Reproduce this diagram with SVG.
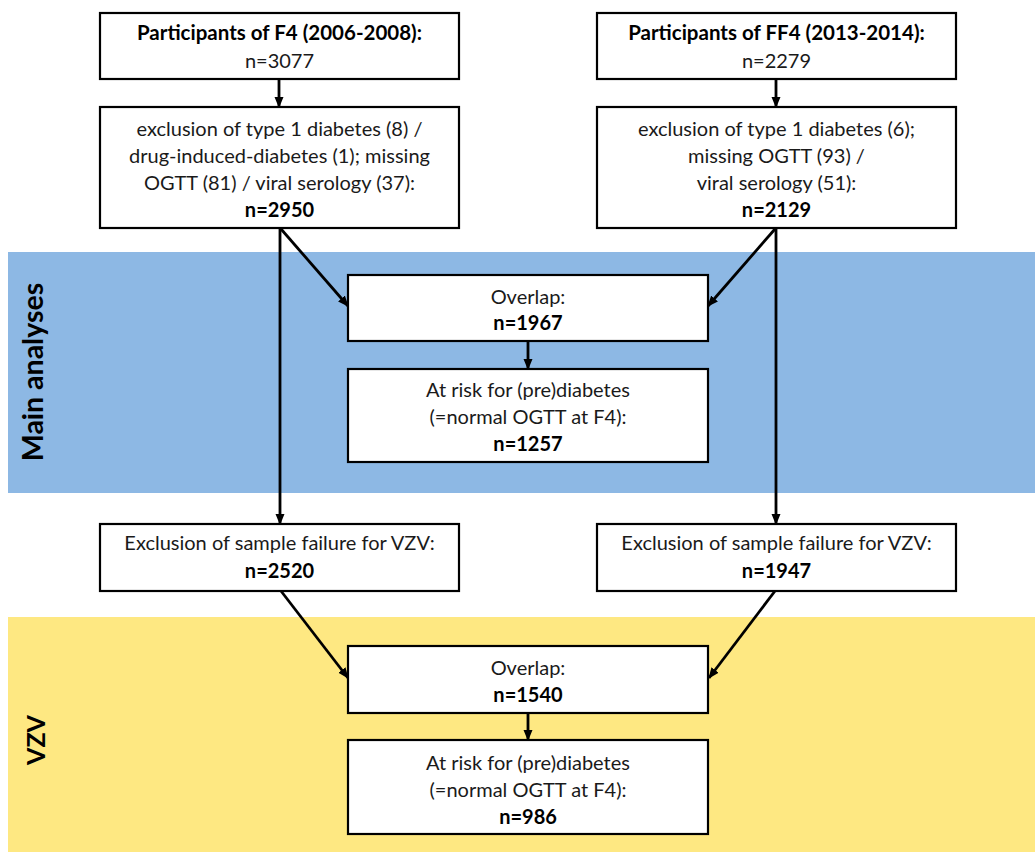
<svg xmlns="http://www.w3.org/2000/svg" width="1035" height="852" viewBox="0 0 1035 852">
<defs>
<marker id="ah" markerWidth="11" markerHeight="10" viewBox="0 0 11 10" refX="10" refY="5" orient="auto" markerUnits="userSpaceOnUse">
<path d="M0,0.5 L11,5 L0,9.5 Z" fill="#000"/>
</marker>
<style>
.box{fill:#fff;stroke:#000;stroke-width:2.2}
.t{font-family:Lato,"Liberation Sans",sans-serif;font-size:20px;fill:#1a1a1a;text-anchor:middle}
.b{font-weight:bold;fill:#000}
.h{font-size:20.5px}
.c{stroke:#000;stroke-width:2.8;fill:none;marker-end:url(#ah)}
.lab{font-family:Lato,"Liberation Sans",sans-serif;font-weight:bold;fill:#000;text-anchor:middle}
</style>
</defs>
<rect width="1035" height="852" fill="#fff"/>
<g id="band-main">
<rect x="8" y="252" width="1027" height="241" fill="#8DB8E4"/>
<text class="lab" font-size="28.5" transform="translate(43,372) rotate(-90)">Main analyses</text>
</g>
<g id="band-vzv">
<rect x="8" y="617" width="1027" height="235" fill="#FEE882"/>
<text class="lab" font-size="25" transform="translate(45,740) rotate(-90)">VZV</text>
</g>
<g id="connectors">
<line class="c" x1="279" y1="79" x2="279" y2="107"/>
<line class="c" x1="776" y1="79" x2="776" y2="107"/>
<line class="c" x1="281" y1="229" x2="348" y2="306"/>
<line class="c" x1="280" y1="229" x2="280" y2="524"/>
<line class="c" x1="775" y1="229" x2="708" y2="306"/>
<line class="c" x1="776" y1="229" x2="776" y2="524"/>
<line class="c" x1="528" y1="341" x2="528" y2="369"/>
<line class="c" x1="281" y1="591" x2="348" y2="678"/>
<line class="c" x1="775" y1="591" x2="709" y2="678"/>
<line class="c" x1="528" y1="713" x2="528" y2="740"/>
</g>
<g id="f4">
<rect class="box" x="100" y="13" width="359" height="66"/>
<text class="t b h" x="279.5" y="40">Participants of F4 (2006-2008):</text>
<text class="t" x="279.5" y="68">n=3077</text>
</g>
<g id="ff4">
<rect class="box" x="597" y="13" width="359" height="66"/>
<text class="t b h" x="776.5" y="40">Participants of FF4 (2013-2014):</text>
<text class="t" x="776.5" y="68">n=2279</text>
</g>
<g id="f4-excl">
<rect class="box" x="100" y="107" width="359" height="121"/>
<text class="t" x="279.5" y="136">exclusion of type 1 diabetes (8) /</text>
<text class="t" x="279.5" y="163">drug-induced-diabetes (1); missing</text>
<text class="t" x="279.5" y="190">OGTT (81) / viral serology (37):</text>
<text class="t b" x="279.5" y="217">n=2950</text>
</g>
<g id="ff4-excl">
<rect class="box" x="597" y="107" width="359" height="121"/>
<text class="t" x="776.5" y="136">exclusion of type 1 diabetes (6);</text>
<text class="t" x="776.5" y="163">missing OGTT (93) /</text>
<text class="t" x="776.5" y="190">viral serology (51):</text>
<text class="t b" x="776.5" y="217">n=2129</text>
</g>
<g id="overlap-main">
<rect class="box" x="348" y="275" width="360" height="66"/>
<text class="t" x="528" y="304">Overlap:</text>
<text class="t b" x="528" y="330">n=1967</text>
</g>
<g id="risk-main">
<rect class="box" x="348" y="369" width="360" height="93"/>
<text class="t" x="528" y="397">At risk for (pre)diabetes</text>
<text class="t" x="528" y="424">(=normal OGTT at F4):</text>
<text class="t b" x="528" y="451">n=1257</text>
</g>
<g id="f4-vzv">
<rect class="box" x="100" y="524" width="359" height="67"/>
<text class="t" x="279.5" y="550">Exclusion of sample failure for VZV:</text>
<text class="t b" x="279.5" y="578">n=2520</text>
</g>
<g id="ff4-vzv">
<rect class="box" x="597" y="524" width="359" height="67"/>
<text class="t" x="776.5" y="550">Exclusion of sample failure for VZV:</text>
<text class="t b" x="776.5" y="578">n=1947</text>
</g>
<g id="overlap-vzv">
<rect class="box" x="348" y="646" width="360" height="67"/>
<text class="t" x="528" y="675">Overlap:</text>
<text class="t b" x="528" y="702">n=1540</text>
</g>
<g id="risk-vzv">
<rect class="box" x="348" y="740" width="360" height="94"/>
<text class="t" x="528" y="770">At risk for (pre)diabetes</text>
<text class="t" x="528" y="797">(=normal OGTT at F4):</text>
<text class="t b" x="528" y="824">n=986</text>
</g>
</svg>
